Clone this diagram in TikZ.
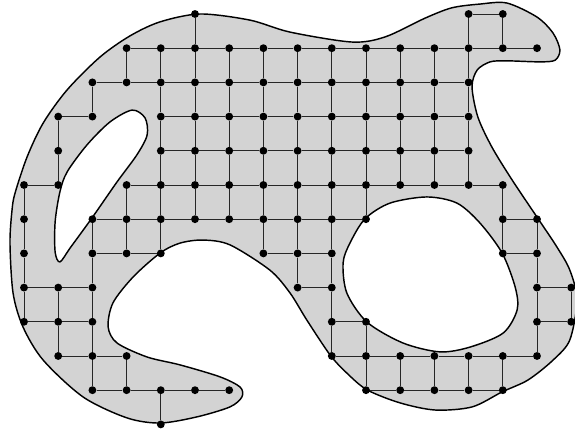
\documentclass[tikz,border=0pt]{standalone}
\usepackage{tikz}
\usetikzlibrary{calc}
\usepackage{xcolor}
\definecolor{RG}{RGB}{211,211,211}

\begin{document}
\begin{tikzpicture}[
  region/.style={draw=black, line width=1.2pt, fill=RG, even odd rule},
  dot/.style={circle, fill=black, inner sep=0pt, minimum size=0.23cm},
  edge/.style={draw=black!85, line width=0.8pt}
]
\useasboundingbox (-0.702,0.409) rectangle (16.111,-12.222);

% region with two holes
\path[region]
  plot[smooth cycle] coordinates {
    (5.15,0) (6.61,-0.18) (7.78,-0.53) (9.59,-0.82) (10.56,-0.67) (11.73,-0.12)
    (12.51,0.18) (13.33,0.29) (14.12,0.32) (15.00,-0.09) (15.47,-0.56) (15.67,-1.05)
    (15.53,-1.35) (15.09,-1.40) (14.12,-1.37) (13.63,-1.40) (13.25,-1.64) (13.10,-2.13)
    (13.27,-3.01) (13.68,-3.89) (14.27,-4.85) (15.00,-5.94) (15.58,-6.81) (15.96,-7.49)
    (16.17,-8.36) (15.96,-9.53) (15.47,-10.12) (14.74,-10.70) (13.98,-11.05) (13.10,-11.49)
    (12.02,-11.58) (10.99,-11.37) (10.03,-10.99) (9.44,-10.50) (8.95,-9.97) (8.27,-8.95)
    (7.78,-8.16) (7.19,-7.49) (6.02,-6.75) (5.23,-6.61) (4.56,-6.70) (3.98,-6.99) (3.19,-7.69)
    (2.60,-8.45) (2.46,-9.15) (2.72,-9.62) (3.60,-10.03) (4.56,-10.26) (5.73,-10.61)
    (6.32,-10.91) (6.37,-11.20) (6.02,-11.49) (5.06,-11.78) (3.98,-11.96) (3.01,-11.81)
    (1.73,-11.20) (0.56,-10.12) (-0.03,-9.15) (-0.32,-8.16) (-0.41,-6.70) (-0.35,-5.73)
    (-0.26,-5.23) (0.09,-4.18) (0.56,-3.19) (1.26,-2.22) (2.22,-1.26) (3.10,-0.64)
    (3.98,-0.23)}
  plot[smooth cycle] coordinates {
    (3.16,-2.81) (3.54,-3.04) (3.60,-3.54) (3.30,-4.12) (2.72,-4.91) (1.99,-5.96)
    (1.35,-6.84) (1.05,-7.25) (0.91,-6.96) (0.91,-6.08) (1.05,-5.20) (1.26,-4.62)
    (1.84,-3.83) (2.51,-3.16)}
  plot[smooth cycle] coordinates {
    (11.78,-5.35) (12.66,-5.53) (13.33,-6.11) (13.98,-6.99) (14.36,-7.98) (14.42,-8.65)
    (14.01,-9.33) (13.04,-9.74) (12.16,-9.88) (11.08,-9.62) (10.03,-9.01) (9.44,-8.16)
    (9.33,-7.28) (9.53,-6.70) (9.97,-5.99) (10.70,-5.53)};

% grid points, row by row
\foreach \r/\cs in {0/{5,13,14}, 1/{3,...,15}, 2/{2,...,13}, 3/{1,2,4,5,...,13},
                    4/{1,4,5,...,13}, 5/{0,1,3,4,...,14}, 6/{0,2,3,...,10,14,15},
                    7/{0,2,3,4,7,8,9,14,15}, 8/{0,1,2,8,9,15,16}, 9/{0,1,2,9,10,15,16},
                    10/{1,2,3,9,10,...,15}, 11/{2,3,4,5,6,10,11,12,13,14}, 12/{4}}
  \foreach \c in \cs
    \node[dot] (n-\r-\c) at (\c,-\r) {};

% horizontal links
\foreach \r/\a/\b in {0/13/14, 1/3/15, 2/2/13, 3/1/2, 3/4/13, 4/4/13, 5/0/1, 5/3/14,
                      6/2/10, 6/14/15, 7/2/4, 7/7/9, 7/14/15, 8/0/2, 8/8/9, 8/15/16,
                      9/0/2, 9/9/10, 9/15/16, 10/1/3, 10/9/15, 11/2/6, 11/10/14} {
  \pgfmathtruncatemacro\bb{\b-1}
  \foreach \c in {\a,...,\bb} {
    \pgfmathtruncatemacro\cc{\c+1}
    \draw[edge] (n-\r-\c) -- (n-\r-\cc);
  }
}

% vertical links
\foreach \c/\a/\b in {0/5/9, 1/3/5, 1/8/10, 2/2/3, 2/6/11, 3/1/2, 3/5/7, 3/10/11,
                      4/1/7, 4/11/12, 5/0/6, 6/1/6, 7/1/7, 8/1/8, 9/1/10, 10/1/6,
                      10/9/11, 11/1/5, 11/10/11, 12/1/5, 12/10/11, 13/0/5, 13/10/11,
                      14/0/1, 14/5/7, 14/10/11, 15/6/10, 16/8/9} {
  \pgfmathtruncatemacro\bb{\b-1}
  \foreach \r in {\a,...,\bb} {
    \pgfmathtruncatemacro\rr{\r+1}
    \draw[edge] (n-\r-\c) -- (n-\rr-\c);
  }
}
\end{tikzpicture}
\end{document}
